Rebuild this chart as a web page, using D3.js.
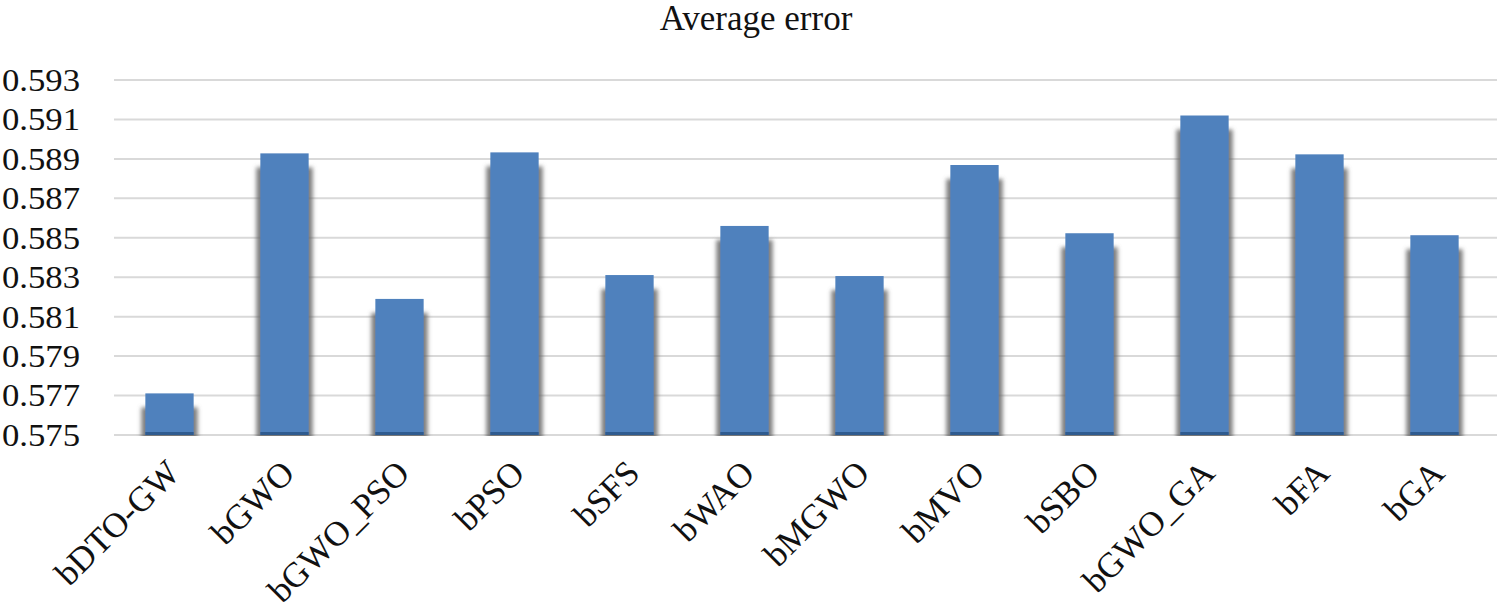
<!DOCTYPE html>
<html>
<head>
<meta charset="utf-8">
<script src="https://cdn.jsdelivr.net/npm/d3@7"></script>
<style>
  body { margin: 0; background: #fff; }
  svg { display: block; }
</style>
</head>
<body>
<div id="chart"></div>
<script>
const categories = ["bDTO-GW", "bGWO", "bGWO_PSO", "bPSO", "bSFS", "bWAO", "bMGWO", "bMVO", "bSBO", "bGWO_GA", "bFA", "bGA"];
const values = [0.57711, 0.58928, 0.5819, 0.58933, 0.58311, 0.5856, 0.58306, 0.58869, 0.58523, 0.5912, 0.58923, 0.58513];
const tickValues = [0.575, 0.577, 0.579, 0.581, 0.583, 0.585, 0.587, 0.589, 0.591, 0.593];
const title = "Average error";

const width = 1500;
const height = 611;
const margin = { top: 80, right: 8, bottom: 176, left: 112 };
const font = "'Liberation Serif', 'Times New Roman', serif";

const svg = d3.select("#chart")
  .append("svg")
  .attr("width", width)
  .attr("height", height);

// Excel-like soft shadow behind the bars
const defs = svg.append("defs");
const shadow = defs.append("filter")
  .attr("id", "shadow")
  .attr("x", "-40%").attr("y", "-10%")
  .attr("width", "180%").attr("height", "130%");
shadow.append("feMorphology")
  .attr("in", "SourceAlpha").attr("operator", "dilate")
  .attr("radius", "4 0").attr("result", "grown");
shadow.append("feOffset")
  .attr("in", "grown").attr("dx", 0).attr("dy", 14).attr("result", "off");
shadow.append("feGaussianBlur")
  .attr("in", "off").attr("stdDeviation", 2.2).attr("result", "blur");
shadow.append("feFlood").attr("flood-color", "#666").attr("flood-opacity", 0.85);
shadow.append("feComposite").attr("in2", "blur").attr("operator", "in").attr("result", "sh");
const merge = shadow.append("feMerge");
merge.append("feMergeNode").attr("in", "sh");
merge.append("feMergeNode").attr("in", "SourceGraphic");

const x = d3.scaleBand()
  .domain(categories)
  .range([margin.left, width - margin.right])
  .paddingInner(0.58)
  .paddingOuter(0.29);

const y = d3.scaleLinear()
  .domain([0.575, 0.593])
  .range([height - margin.bottom, margin.top]);

// gridlines
svg.append("g")
  .selectAll("line")
  .data(tickValues)
  .join("line")
  .attr("x1", margin.left + 2)
  .attr("x2", width - 3)
  .attr("y1", d => y(d))
  .attr("y2", d => y(d))
  .attr("stroke", "#d9d9d9")
  .attr("stroke-width", 2);

// y tick labels
svg.append("g")
  .selectAll("text")
  .data(tickValues)
  .join("text")
  .attr("transform", d => `translate(80,${y(d)}) scale(1.12,1)`)
  .attr("dy", "0.35em")
  .attr("text-anchor", "end")
  .style("font-family", font)
  .style("font-size", "31px")
  .attr("fill", "#111")
  .text(d => d3.format(".3f")(d));

// bars
const bars = svg.append("g");
bars.selectAll("rect.bar")
  .data(values)
  .join("rect")
  .attr("class", "bar")
  .attr("x", (d, i) => x(categories[i]))
  .attr("y", d => y(d))
  .attr("width", x.bandwidth())
  .attr("height", d => y(0.575) - y(d))
  .attr("fill", "#4f81bd")
  .attr("filter", "url(#shadow)");

bars.selectAll("rect.base")
  .data(values)
  .join("rect")
  .attr("class", "base")
  .attr("x", (d, i) => x(categories[i]))
  .attr("y", y(0.575) - 3)
  .attr("width", x.bandwidth())
  .attr("height", 3)
  .attr("fill", "#2f5b8f");

// cover the shadow below the baseline
svg.append("rect")
  .attr("x", margin.left)
  .attr("y", y(0.575) + 1)
  .attr("width", width - margin.left)
  .attr("height", 20)
  .attr("fill", "#fff");

// x labels
svg.append("g")
  .selectAll("text")
  .data(categories)
  .join("text")
  .attr("transform", d => `translate(${x(d) + x.bandwidth() / 2 + 12},${y(0.575) + 40}) rotate(-45)`)
  .attr("text-anchor", "end")
  .style("font-family", font)
  .style("font-size", "35px")
  .attr("fill", "#111")
  .text(d => d);

// title
svg.append("text")
  .attr("x", 756)
  .attr("y", 30)
  .attr("text-anchor", "middle")
  .style("font-family", font)
  .style("font-size", "35px")
  .attr("fill", "#111")
  .text(title);
</script>
</body>
</html>
